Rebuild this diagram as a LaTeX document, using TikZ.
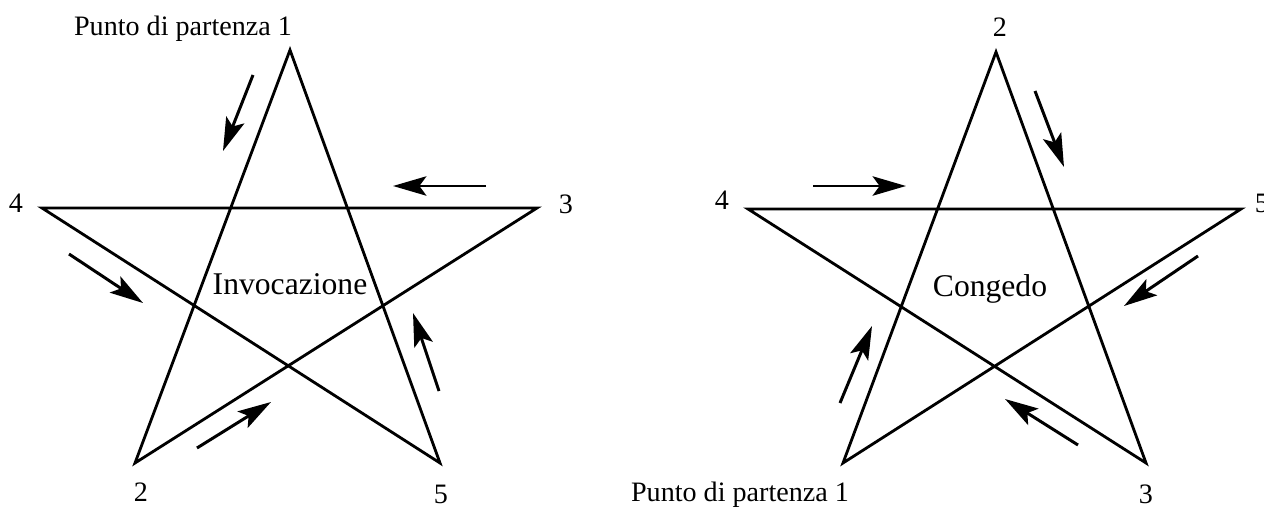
\documentclass[tikz,border=0pt]{standalone}
\usepackage{fontspec}
\setmainfont{Liberation Serif}
\usetikzlibrary{arrows.meta}
\begin{document}
\begin{tikzpicture}[
	x=0.02cm, y=-0.02cm,
	star/.style={draw,line width=1.6pt,line join=miter},
	move/.style={draw,line width=1.7pt,-{Stealth[length=19pt,width=11pt,inset=4pt]}},
	every node/.style={inner sep=0pt,font=\fontsize{16}{19}\selectfont}
	]
	\useasboundingbox (0,0) rectangle (1264,507);
	% Invocazione
	\coordinate (a1) at (290, 50);
	\coordinate (a2) at (135, 463);
	\coordinate (a3) at (537, 208);
	\coordinate (a4) at (42, 208);
	\coordinate (a5) at (440, 463);
	\path[star]  (a1) -- (a2) -- (a3) -- (a4) -- (a5) -- cycle;
	\node[anchor=base]  (pa) at (183, 35)  {Punto di partenza 1};
	\node  (n2) at (141, 492)  {2};
	\node  (n3) at (566, 204)  {3};
	\node  (n4) at (16, 203)  {4};
	\node  (n5) at (441, 494)  {5};
	\node[anchor=base,font=\fontsize{18}{21}\selectfont]  (inv) at (290, 294)  {Invocazione};
	\coordinate (s1) at (253, 75);   \coordinate (e1) at (223, 151);
	\coordinate (s2) at (486, 186);  \coordinate (e2) at (393, 186);
	\coordinate (s3) at (69, 254);   \coordinate (e3) at (143, 303);
	\coordinate (s4) at (197, 448);  \coordinate (e4) at (271, 402);
	\coordinate (s5) at (439, 391);  \coordinate (e5) at (413, 313);
	\path[move]  (s1) -- (e1);
	\path[move]  (s2) -- (e2);
	\path[move]  (s3) -- (e3);
	\path[move]  (s4) -- (e4);
	\path[move]  (s5) -- (e5);
	% Congedo
	\coordinate (b2) at (996, 52);
	\coordinate (b3) at (1146, 463);
	\coordinate (b4) at (748, 209);
	\coordinate (b5) at (1241, 209);
	\coordinate (b1) at (843, 463);
	\path[star]  (b2) -- (b3) -- (b4) -- (b5) -- (b1) -- cycle;
	\node[anchor=base]  (pb) at (740, 501)  {Punto di partenza 1};
	\node  (m2) at (1000, 27)  {2};
	\node  (m3) at (1146, 494)  {3};
	\node  (m4) at (722, 200)  {4};
	\node  (m5) at (1262, 203)  {5};
	\node[anchor=base,font=\fontsize{18}{21}\selectfont]  (cong) at (990, 296)  {Congedo};
	\coordinate (t1) at (813, 186);   \coordinate (f1) at (906, 186);
	\coordinate (t2) at (1035, 91);   \coordinate (f2) at (1064, 167);
	\coordinate (t3) at (1198, 256);  \coordinate (f3) at (1124, 306);
	\coordinate (t4) at (1078, 445);  \coordinate (f4) at (1005, 399);
	\coordinate (t5) at (840, 403);   \coordinate (f5) at (872, 326);
	\path[move]  (t1) -- (f1);
	\path[move]  (t2) -- (f2);
	\path[move]  (t3) -- (f3);
	\path[move]  (t4) -- (f4);
	\path[move]  (t5) -- (f5);
\end{tikzpicture}
\end{document}
